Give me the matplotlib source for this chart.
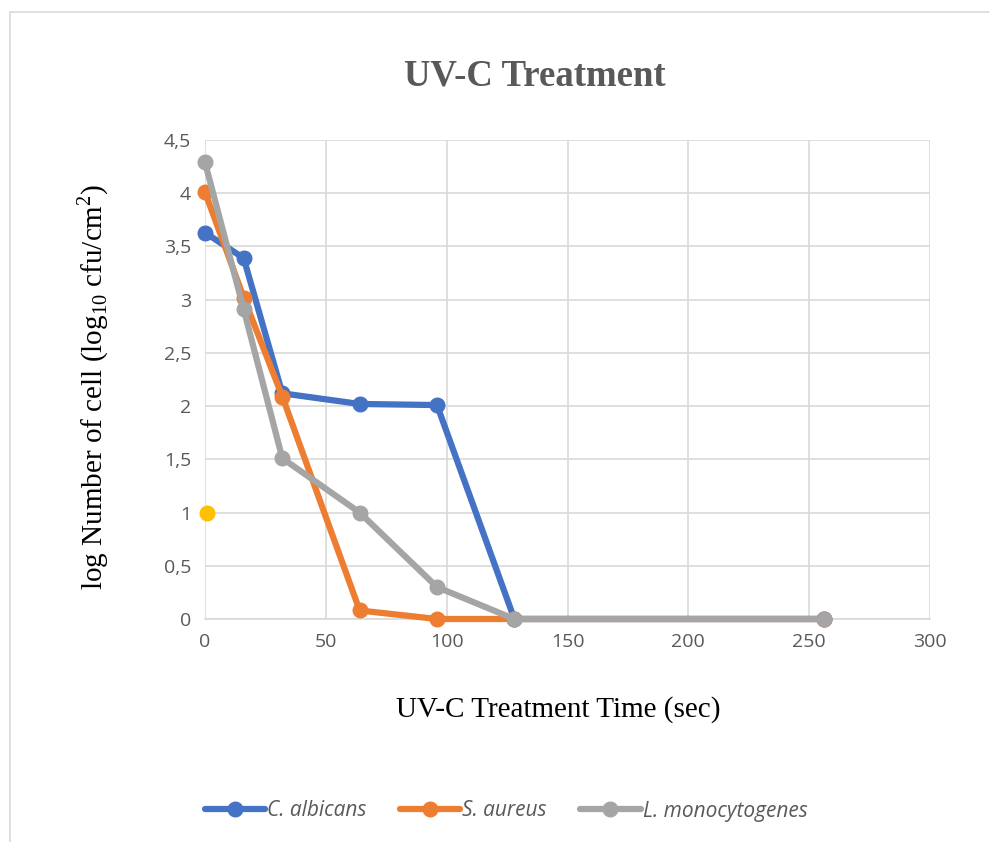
import numpy as np
import matplotlib
matplotlib.use('Agg')
from matplotlib import pyplot as plt
from matplotlib.patches import Rectangle
from matplotlib.ticker import FuncFormatter

# treatment times (sec) and log counts per organism
time_sec = [0, 16, 32, 64, 96, 128, 256]
c_albicans = [3.63, 3.39, 2.12, 2.02, 2.01, 0.0, 0.0]
s_aureus = [4.01, 3.02, 2.09, 0.08, 0.0, 0.0, 0.0]
l_monocytogenes = [4.29, 2.91, 1.51, 1.0, 0.30, 0.0, 0.0]
series_names = ['C. albicans', 'S. aureus', 'L. monocytogenes']
series_colors = ['#4472C4', '#ED7D31', '#A5A5A5']

# stray single point
extra_x = [1]
extra_y = [1.0]

x_ticks = [0, 50, 100, 150, 200, 250, 300]
y_ticks = [0, 0.5, 1, 1.5, 2, 2.5, 3, 3.5, 4, 4.5]

W, H = 989, 842
fig = plt.figure(figsize=(W / 100, H / 100), dpi=100)
ax = fig.add_axes([205 / W, 1 - 619 / H, (930 - 205) / W, (619 - 140) / H])

# chart area border
fig.patches.append(Rectangle((9.5 / W, -0.1), 1.2, 1 - 12 / H + 0.1,
                             transform=fig.transFigure, fill=False,
                             edgecolor='#D9D9D9', linewidth=1.2))

for ys, name, col in zip([c_albicans, s_aureus, l_monocytogenes],
                         series_names, series_colors):
    ax.plot(time_sec, ys, color=col, linewidth=4.5, marker='o',
            markersize=10.5, label=name, solid_capstyle='round', zorder=3,
            clip_on=False)

ax.plot(extra_x, extra_y, linestyle='none', marker='o', markersize=10.5,
        color='#FFC000', zorder=3, clip_on=False)

ax.set_xlim(0, 300)
ax.set_ylim(0, 4.5)
ax.set_xticks(x_ticks)
ax.set_yticks(y_ticks)
ax.yaxis.set_major_formatter(FuncFormatter(lambda v, p: ('%g' % v).replace('.', ',')))
ax.grid(True, color='#D9D9D9', linewidth=1.2)
ax.set_axisbelow(True)
for s in ['top', 'right', 'left']:
    ax.spines[s].set_visible(False)
ax.spines['bottom'].set_color('#D9D9D9')
ax.spines['bottom'].set_linewidth(1.2)
ax.tick_params(length=0, labelsize=14, labelcolor='#595959', pad=10)
for lab in ax.get_xticklabels() + ax.get_yticklabels():
    lab.set_family('Open Sans')

fig.text(535 / W, 1 - 76 / H, 'UV-C Treatment', ha='center', va='center',
         fontsize=26.5, fontweight='bold', color='#595959',
         family='Liberation Serif')
fig.text(558 / W, 1 - 710 / H, 'UV-C Treatment Time (sec)', ha='center',
         va='center', fontsize=21, color='black', family='Liberation Serif')
plt.rcParams['mathtext.fontset'] = 'custom'
plt.rcParams['mathtext.rm'] = 'Liberation Serif'
fig.text(93 / W, 1 - 387 / H,
         r'log Number of cell (log$_{\mathrm{10}}$ cfu/cm$^{\mathrm{2}}$)',
         ha='center', va='center', rotation=90, fontsize=21, color='black',
         family='Liberation Serif')

leg = fig.legend(loc='center', bbox_to_anchor=(506 / W, 1 - 811 / H), ncol=3,
                 frameon=False, handlelength=2.9, handletextpad=0.1,
                 columnspacing=1.6,
                 prop={'family': 'Open Sans', 'style': 'italic', 'size': 15})
for t in leg.get_texts():
    t.set_color('#595959')

fig.savefig('out.png', dpi=100)
